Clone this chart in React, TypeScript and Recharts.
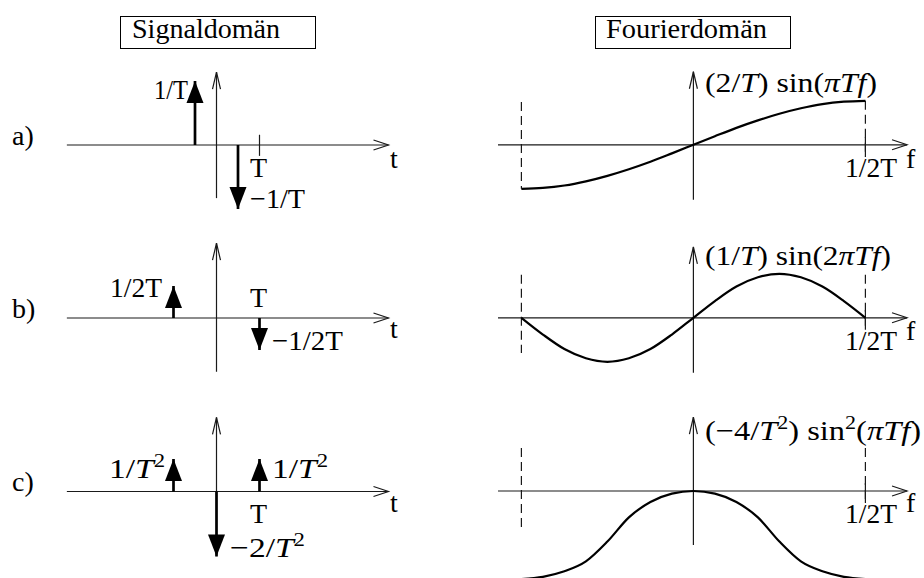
import { LineChart, Line, XAxis, YAxis } from 'recharts';

// frequency grid in units of 1/T
const freq = [-0.5, -0.4375, -0.375, -0.3125, -0.25, -0.1875, -0.125, -0.0625, 0,
  0.0625, 0.125, 0.1875, 0.25, 0.3125, 0.375, 0.4375, 0.5];

// (2/T) sin(πTf)
const spectrumA = [-2, -1.96, -1.85, -1.66, -1.41, -1.11, -0.77, -0.39, 0,
  0.39, 0.77, 1.11, 1.41, 1.66, 1.85, 1.96, 2];
// (1/T) sin(2πTf)
const spectrumB = [0, -0.38, -0.71, -0.92, -1, -0.92, -0.71, -0.38, 0,
  0.38, 0.71, 0.92, 1, 0.92, 0.71, 0.38, 0];
// (-4/T²) sin²(πTf)
const spectrumC = [-4, -3.9, -3.65, -3.2, -2.3, -1.2, -0.5, -0.12, 0,
  -0.12, -0.5, -1.2, -2.3, -3.2, -3.65, -3.9, -4];

// impulse positions (units of T) and their weights
const impulseTimesA = [-0.5, 0.5];
const impulseWeightsA = [1, -1];
const impulseTimesB = [-1, 1];
const impulseWeightsB = [0.5, -0.5];
const impulseTimesC = [-1, 0, 1];
const impulseWeightsC = [1, -2, 1];

const INK = '#000';
const AXIS = '#1a1a1a';
const serif = "'Liberation Serif', 'DejaVu Serif', 'Noto Serif', serif";

type Pt = { t: number; v: number };

const seg = (t1: number, v1: number, t2: number, v2: number): Pt[] => [
  { t: t1, v: v1 },
  { t: t2, v: v2 },
];

const arrowRight = (p: any) =>
  p.index === 1 ? (
    <path key="ar" d={`M${p.cx - 15},${p.cy - 5}L${p.cx},${p.cy}L${p.cx - 15},${p.cy + 5}`}
      fill="none" stroke={AXIS} strokeWidth={1.2} />
  ) : <g key={`ar${p.index}`} />;

const arrowUp = (p: any) =>
  p.index === 1 ? (
    <path key="au" d={`M${p.cx - 4},${p.cy + 17}L${p.cx},${p.cy}L${p.cx + 4},${p.cy + 17}`}
      fill="none" stroke={AXIS} strokeWidth={1.2} />
  ) : <g key={`au${p.index}`} />;

// filled arrowhead at the tip of a Dirac impulse
const impulseHead = (p: any) => {
  if (p.index !== 1) return <g key={`ih${p.index}`} />;
  const base = p.cy + (p.payload.v > 0 ? 22 : -22);
  return (
    <path key="ih" d={`M${p.cx},${p.cy}L${p.cx - 8.5},${base}L${p.cx + 8.5},${base}Z`} fill={INK} />
  );
};

function axisLines(xMin: number, xMax: number, yMin: number, yMax: number) {
  return [
    <Line key="xa" data={seg(xMin, 0, xMax, 0)} dataKey="v" type="linear" stroke={AXIS}
      strokeWidth={1.2} dot={arrowRight} activeDot={false} isAnimationActive={false} />,
    <Line key="ya" data={seg(0, yMin, 0, yMax)} dataKey="v" type="linear" stroke={AXIS}
      strokeWidth={1.2} dot={arrowUp} activeDot={false} isAnimationActive={false} />,
  ];
}

function plain(key: string, data: Pt[], dashed = false) {
  return (
    <Line key={key} data={data} dataKey="v" type="linear" stroke={AXIS} strokeWidth={1.2}
      strokeDasharray={dashed ? '9 5' : undefined} dot={false} activeDot={false}
      isAnimationActive={false} />
  );
}

function impulses(times: number[], weights: number[]) {
  return times.map((t, i) => (
    <Line key={`imp${i}`} data={seg(t, 0, t, weights[i])} dataKey="v" type="linear"
      stroke={INK} strokeWidth={2.7} dot={impulseHead} activeDot={false}
      isAnimationActive={false} />
  ));
}

function spectrum(values: number[]) {
  const data = freq.map((f, i) => ({ t: f, v: values[i] }));
  return (
    <Line key="spec" data={data} dataKey="v" type="monotone" stroke={INK} strokeWidth={2.2}
      dot={false} activeDot={false} isAnimationActive={false} />
  );
}

function Panel({ left, top, width, height, xDomain, yDomain, children }: any) {
  return (
    <div style={{ position: 'absolute', left, top }}>
      <LineChart width={width} height={height} margin={{ top: 0, right: 0, bottom: 0, left: 0 }}>
        <XAxis type="number" dataKey="t" domain={xDomain} hide allowDataOverflow />
        <YAxis type="number" dataKey="v" domain={yDomain} hide allowDataOverflow />
        {children}
      </LineChart>
    </div>
  );
}

const It = ({ children }: any) => <tspan style={{ fontStyle: 'italic' }}>{children}</tspan>;
const Sup = ({ children }: any) => <tspan dy={-11} style={{ fontSize: 19 }}>{children}</tspan>;

function Txt({ x, y, size = 28, len, children }: any) {
  return (
    <text x={x} y={y} style={{ fontFamily: serif, fontSize: size }} fill={INK}
      textLength={len} lengthAdjust={len ? 'spacingAndGlyphs' : undefined}>
      {children}
    </text>
  );
}

const tDomain = [-3.5, 4.5];
const fDomain = [-0.6, 0.65];

export default function App() {
  return (
    <div style={{ position: 'absolute', left: 0, top: 0, width: 924, height: 578, overflow: 'hidden', background: '#fff' }}>
      {/* time domain */}
      <Panel left={66} top={49} width={344} height={176} xDomain={tDomain} yDomain={[-1.25, 1.5]}>
        {axisLines(-3.48, 4, -0.83, 1.14)}
        {plain('tick', seg(1, 0.16, 1, -0.17))}
        {impulses(impulseTimesA, impulseWeightsA)}
      </Panel>
      <Panel left={66} top={222} width={344} height={176} xDomain={tDomain} yDomain={[-1.25, 1.5]}>
        {axisLines(-3.48, 4, -0.84, 1.17)}
        {impulses(impulseTimesB, impulseWeightsB)}
      </Panel>
      <Panel left={66} top={393.5} width={344} height={178.75} xDomain={tDomain} yDomain={[-2.5, 3]}>
        {axisLines(-3.48, 4, -1.66, 2.28)}
        {impulses(impulseTimesC, impulseWeightsC)}
      </Panel>

      {/* frequency domain */}
      <Panel left={487} top={48.2} width={430} height={176} xDomain={fDomain} yDomain={[-3.6, 4.4]}>
        {axisLines(-0.568, 0.621, -2.5, 3.32)}
        {plain('dl', seg(-0.5, 1.95, -0.5, -2), true)}
        {plain('dr', seg(0.5, 2, 0.5, -0.55), true)}
        {plain('tick', seg(0.5, 0.36, 0.5, -0.55))}
        {spectrum(spectrumA)}
      </Panel>
      <Panel left={487} top={221.2} width={430} height={176} xDomain={fDomain} yDomain={[-1.8, 2.2]}>
        {axisLines(-0.568, 0.621, -1.25, 1.61)}
        {plain('dl', seg(-0.5, 0.98, -0.5, -0.8), true)}
        {plain('dr', seg(0.5, 0.98, 0.5, -0.27), true)}
        {plain('tick', seg(0.5, 0.18, 0.5, -0.27))}
        {spectrum(spectrumB)}
      </Panel>
      <Panel left={487} top={403} width={430} height={187} xDomain={fDomain} yDomain={[-4.5, 4]}>
        {axisLines(-0.568, 0.621, -2.45, 3.36)}
        {plain('dl', seg(-0.5, 1.95, -0.5, -1.64), true)}
        {plain('dr', seg(0.5, 1.95, 0.5, -0.55), true)}
        {plain('tick', seg(0.5, 0.36, 0.5, -0.55))}
        {spectrum(spectrumC)}
      </Panel>

      <svg width={924} height={578} style={{ position: 'absolute', left: 0, top: 0, pointerEvents: 'none' }}>
        <rect x={120.5} y={16.5} width={195} height={32} fill="none" stroke={INK} strokeWidth={1} />
        <Txt x={132} y={38} size={27} len={148}>Signaldomän</Txt>
        <rect x={595.5} y={16.5} width={195} height={32} fill="none" stroke={INK} strokeWidth={1} />
        <Txt x={606} y={38} size={27} len={161}>Fourierdomän</Txt>

        <Txt x={12} y={145}>a)</Txt>
        <Txt x={12} y={318}>b)</Txt>
        <Txt x={12} y={491}>c)</Txt>

        {/* a) */}
        <Txt x={154} y={99} len={34}>1/T</Txt>
        <Txt x={250} y={177}>T</Txt>
        <Txt x={250} y={208} len={55}>−1/T</Txt>
        <Txt x={390} y={168}>t</Txt>
        <Txt x={705} y={92} len={172}>(2/<It>T</It>) sin(<It>πTf</It>)</Txt>
        <Txt x={845} y={177} len={52}>1/2T</Txt>
        <Txt x={906} y={168}>f</Txt>

        {/* b) */}
        <Txt x={110} y={297} len={52}>1/2T</Txt>
        <Txt x={250} y={307}>T</Txt>
        <Txt x={272} y={350} len={71}>−1/2T</Txt>
        <Txt x={390} y={338}>t</Txt>
        <Txt x={705} y={265} len={186}>(1/<It>T</It>) sin(2<It>πTf</It>)</Txt>
        <Txt x={845} y={350} len={52}>1/2T</Txt>
        <Txt x={906} y={340}>f</Txt>

        {/* c) */}
        <Txt x={109} y={478} len={56}>1/<It>T</It><Sup>2</Sup></Txt>
        <Txt x={272} y={478} len={56}>1/<It>T</It><Sup>2</Sup></Txt>
        <Txt x={250} y={523}>T</Txt>
        <Txt x={230} y={557} len={75}>−2/<It>T</It><Sup>2</Sup></Txt>
        <Txt x={390} y={512}>t</Txt>
        <Txt x={705} y={440} len={216}>
          (−4/<It>T</It><Sup>2</Sup><tspan dy={11}>) sin</tspan>
          <Sup>2</Sup><tspan dy={11}>(</tspan><It>πTf</It>)
        </Txt>
        <Txt x={845} y={523} len={52}>1/2T</Txt>
        <Txt x={906} y={512}>f</Txt>
      </svg>
    </div>
  );
}
